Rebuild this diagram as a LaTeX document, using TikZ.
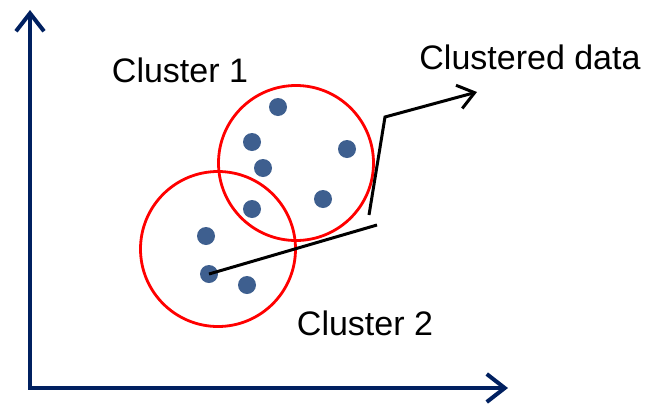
\documentclass[tikz,border=0pt]{standalone}
\usepackage{fontspec}
\setmainfont{Liberation Sans}
\usetikzlibrary{arrows.meta}
\definecolor{axisblue}{RGB}{0,32,96}
\definecolor{dotblue}{RGB}{62,95,143}

\begin{document}
\begin{tikzpicture}[x=1pt,y=-1pt,
  dot/.style={circle,fill=dotblue,inner sep=0pt,minimum size=18pt},
  ring/.style={circle,draw=red,line width=2.8pt,inner sep=0pt,minimum size=155pt},
  lbl/.style={font=\fontsize{34}{40}\selectfont,inner sep=0pt}]
\useasboundingbox (0,0) rectangle (646,405);
% axes
\coordinate (o) at (30,388);
\coordinate (ytop) at (30,10);
\coordinate (xend) at (508,388);
\draw[axisblue,line width=4pt,{Straight Barb[length=18pt,width=28pt]}-{Straight Barb[length=18pt,width=28pt]}] (ytop) -- (o) -- (xend);

% clusters
\node[ring] (c1) at (296,163) {};
\node[ring] (c2) at (218,249) {};
\foreach \x/\y [count=\n] in {278/107,252/142,263/168,347/149,252/209,323/199,206/236,209/274,247/285}
  \node[dot] (d\n) at (\x,\y) {};

\node[lbl] (l1) at (180,70) {Cluster 1};
\node[lbl] (l2) at (365,323) {Cluster 2};
\node[lbl] (l3) at (530,57) {Clustered data};

% pointer
\coordinate (low) at (377,225);
\coordinate (up) at (369,215);
\coordinate (bend) at (385,117);
\coordinate (tip) at (477,92);
\draw[line width=3pt] (d8.center) -- (low);
\draw[line width=3pt,-{Straight Barb[length=16pt,width=24pt]}] (up) -- (bend) -- (tip);
\end{tikzpicture}
\end{document}
